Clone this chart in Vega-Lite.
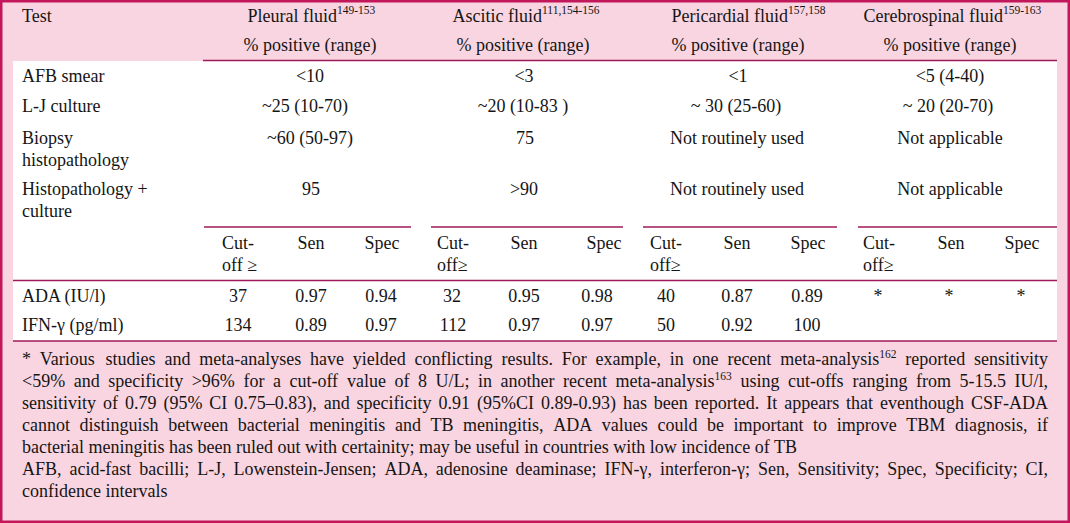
{
  "$schema": "https://vega.github.io/schema/vega-lite/v6.json",
  "width": 1070,
  "height": 523,
  "padding": 0,
  "autosize": {"type": "none"},
  "background": "#f9d5e1",
  "view": {"stroke": "#c2185b", "strokeWidth": 5},
  "datasets": {
    "boxes": [{"x0": 13, "x1": 1057, "y0": 61, "y1": 341}],
    "lines": [
      {"x0": 203, "x1": 1057, "y": 60.5},
      {"x0": 204, "x1": 411, "y": 227},
      {"x0": 431, "x1": 623, "y": 227},
      {"x0": 643, "x1": 837, "y": 227},
      {"x0": 858, "x1": 1057, "y": 227},
      {"x0": 13, "x1": 1057, "y": 280.5},
      {"x0": 13, "x1": 1057, "y": 341}
    ],
    "cells": [
      {"t": "Test", "x": 22, "y": 16.5, "k": "left"},
      {"t": "Pleural fluid", "x": 337, "y": 16.5, "k": "right"},
      {"t": "149-153", "x": 337, "y": 11, "k": "sup"},
      {"t": "Ascitic fluid", "x": 542, "y": 16.5, "k": "right"},
      {"t": "111,154-156", "x": 542, "y": 11, "k": "sup"},
      {"t": "Pericardial fluid", "x": 788, "y": 16.5, "k": "right"},
      {"t": "157,158", "x": 788, "y": 11, "k": "sup"},
      {"t": "Cerebrospinal fluid", "x": 1003, "y": 16.5, "k": "right"},
      {"t": "159-163", "x": 1003, "y": 11, "k": "sup"},
      {"t": "% positive (range)", "x": 310, "y": 46, "k": "center"},
      {"t": "% positive (range)", "x": 523, "y": 46, "k": "center"},
      {"t": "% positive (range)", "x": 738, "y": 46, "k": "center"},
      {"t": "% positive (range)", "x": 950, "y": 46, "k": "center"},

      {"t": "AFB smear", "x": 22, "y": 77, "k": "left"},
      {"t": "<10", "x": 310, "y": 77, "k": "center"},
      {"t": "<3", "x": 524, "y": 77, "k": "center"},
      {"t": "<1", "x": 738, "y": 77, "k": "center"},
      {"t": "<5 (4-40)", "x": 950, "y": 77, "k": "center"},

      {"t": "L-J culture", "x": 22, "y": 107, "k": "left"},
      {"t": "~25 (10-70)", "x": 305, "y": 107, "k": "center"},
      {"t": "~20 (10-83 )", "x": 523, "y": 107, "k": "center"},
      {"t": "~ 30 (25-60)", "x": 736, "y": 107, "k": "center"},
      {"t": "~ 20 (20-70)", "x": 948, "y": 107, "k": "center"},

      {"t": "Biopsy", "x": 22, "y": 139, "k": "left"},
      {"t": "histopathology", "x": 22, "y": 161, "k": "left"},
      {"t": "~60 (50-97)", "x": 310, "y": 139, "k": "center"},
      {"t": "75", "x": 525, "y": 139, "k": "center"},
      {"t": "Not routinely used", "x": 737, "y": 139, "k": "center"},
      {"t": "Not applicable", "x": 950, "y": 139, "k": "center"},

      {"t": "Histopathology +", "x": 22, "y": 190, "k": "left"},
      {"t": "culture", "x": 22, "y": 212, "k": "left"},
      {"t": "95", "x": 311, "y": 190, "k": "center"},
      {"t": ">90", "x": 524, "y": 190, "k": "center"},
      {"t": "Not routinely used", "x": 737, "y": 190, "k": "center"},
      {"t": "Not applicable", "x": 950, "y": 190, "k": "center"},

      {"t": "Cut-", "x": 222, "y": 244, "k": "left"},
      {"t": "off ≥", "x": 222, "y": 266, "k": "left"},
      {"t": "Sen", "x": 311, "y": 244, "k": "center"},
      {"t": "Spec", "x": 382, "y": 244, "k": "center"},
      {"t": "Cut-", "x": 437, "y": 244, "k": "left"},
      {"t": "off≥", "x": 437, "y": 266, "k": "left"},
      {"t": "Sen", "x": 524, "y": 244, "k": "center"},
      {"t": "Spec", "x": 604, "y": 244, "k": "center"},
      {"t": "Cut-", "x": 650, "y": 244, "k": "left"},
      {"t": "off≥", "x": 650, "y": 266, "k": "left"},
      {"t": "Sen", "x": 737, "y": 244, "k": "center"},
      {"t": "Spec", "x": 808, "y": 244, "k": "center"},
      {"t": "Cut-", "x": 863, "y": 244, "k": "left"},
      {"t": "off≥", "x": 863, "y": 266, "k": "left"},
      {"t": "Sen", "x": 951, "y": 244, "k": "center"},
      {"t": "Spec", "x": 1022, "y": 244, "k": "center"},

      {"t": "ADA (IU/l)", "x": 22, "y": 297, "k": "left"},
      {"t": "37", "x": 238, "y": 297, "k": "center"},
      {"t": "0.97", "x": 311, "y": 297, "k": "center"},
      {"t": "0.94", "x": 381, "y": 297, "k": "center"},
      {"t": "32", "x": 452, "y": 297, "k": "center"},
      {"t": "0.95", "x": 524, "y": 297, "k": "center"},
      {"t": "0.98", "x": 597, "y": 297, "k": "center"},
      {"t": "40", "x": 666, "y": 297, "k": "center"},
      {"t": "0.87", "x": 737, "y": 297, "k": "center"},
      {"t": "0.89", "x": 807, "y": 297, "k": "center"},
      {"t": "*", "x": 878, "y": 297, "k": "center"},
      {"t": "*", "x": 949, "y": 297, "k": "center"},
      {"t": "*", "x": 1021, "y": 297, "k": "center"},

      {"t": "IFN-γ (pg/ml)", "x": 22, "y": 326, "k": "left"},
      {"t": "134", "x": 238, "y": 326, "k": "center"},
      {"t": "0.89", "x": 311, "y": 326, "k": "center"},
      {"t": "0.97", "x": 381, "y": 326, "k": "center"},
      {"t": "112", "x": 453, "y": 326, "k": "center"},
      {"t": "0.97", "x": 524, "y": 326, "k": "center"},
      {"t": "0.97", "x": 597, "y": 326, "k": "center"},
      {"t": "50", "x": 666, "y": 326, "k": "center"},
      {"t": "0.92", "x": 737, "y": 326, "k": "center"},
      {"t": "100", "x": 807, "y": 326, "k": "center"},

      {"t": "*", "x": 22, "y": 360, "k": "left"},
      {"t": "Various", "x": 39.8, "y": 360, "k": "left"},
      {"t": "studies", "x": 105.6, "y": 360, "k": "left"},
      {"t": "and", "x": 164.4, "y": 360, "k": "left"},
      {"t": "meta-analyses", "x": 199.2, "y": 360, "k": "left"},
      {"t": "have", "x": 310.0, "y": 360, "k": "left"},
      {"t": "yielded", "x": 352.8, "y": 360, "k": "left"},
      {"t": "conflicting", "x": 414.6, "y": 360, "k": "left"},
      {"t": "results.", "x": 501.4, "y": 360, "k": "left"},
      {"t": "For", "x": 561.7, "y": 360, "k": "left"},
      {"t": "example,", "x": 595.5, "y": 360, "k": "left"},
      {"t": "in", "x": 669.8, "y": 360, "k": "left"},
      {"t": "one", "x": 692.6, "y": 360, "k": "left"},
      {"t": "recent", "x": 727.4, "y": 360, "k": "left"},
      {"t": "meta-analysis", "x": 780.2, "y": 360, "k": "left"},
      {"t": "162", "x": 879.2, "y": 355, "k": "sup"},
      {"t": "reported", "x": 905.2, "y": 360, "k": "left"},
      {"t": "sensitivity", "x": 974.0, "y": 360, "k": "left"},

      {"t": "<59%", "x": 22, "y": 382, "k": "left"},
      {"t": "and", "x": 73.7, "y": 382, "k": "left"},
      {"t": "specificity", "x": 108.2, "y": 382, "k": "left"},
      {"t": ">96%", "x": 191.7, "y": 382, "k": "left"},
      {"t": "for", "x": 243.4, "y": 382, "k": "left"},
      {"t": "a", "x": 272.9, "y": 382, "k": "left"},
      {"t": "cut-off", "x": 289.4, "y": 382, "k": "left"},
      {"t": "value", "x": 347.0, "y": 382, "k": "left"},
      {"t": "of", "x": 394.5, "y": 382, "k": "left"},
      {"t": "8", "x": 418.0, "y": 382, "k": "left"},
      {"t": "U/L;", "x": 435.5, "y": 382, "k": "left"},
      {"t": "in", "x": 478.1, "y": 382, "k": "left"},
      {"t": "another", "x": 500.6, "y": 382, "k": "left"},
      {"t": "recent", "x": 563.1, "y": 382, "k": "left"},
      {"t": "meta-analysis", "x": 615.6, "y": 382, "k": "left"},
      {"t": "163", "x": 714.6, "y": 377, "k": "sup"},
      {"t": "using", "x": 740.4, "y": 382, "k": "left"},
      {"t": "cut-offs", "x": 787.9, "y": 382, "k": "left"},
      {"t": "ranging", "x": 852.4, "y": 382, "k": "left"},
      {"t": "from", "x": 915.9, "y": 382, "k": "left"},
      {"t": "5-15.5", "x": 959.4, "y": 382, "k": "left"},
      {"t": "IU/l,", "x": 1014.5, "y": 382, "k": "left"},

      {"t": "sensitivity", "x": 22, "y": 404, "k": "left"},
      {"t": "of", "x": 103.0, "y": 404, "k": "left"},
      {"t": "0.79", "x": 124.9, "y": 404, "k": "left"},
      {"t": "(95%", "x": 163.4, "y": 404, "k": "left"},
      {"t": "CI", "x": 209.3, "y": 404, "k": "left"},
      {"t": "0.75–0.83),", "x": 234.3, "y": 404, "k": "left"},
      {"t": "and", "x": 323.7, "y": 404, "k": "left"},
      {"t": "specificity", "x": 356.6, "y": 404, "k": "left"},
      {"t": "0.91", "x": 438.6, "y": 404, "k": "left"},
      {"t": "(95%CI", "x": 477.0, "y": 404, "k": "left"},
      {"t": "0.89-0.93)", "x": 541.0, "y": 404, "k": "left"},
      {"t": "has", "x": 622.9, "y": 404, "k": "left"},
      {"t": "been", "x": 653.8, "y": 404, "k": "left"},
      {"t": "reported.", "x": 694.8, "y": 404, "k": "left"},
      {"t": "It", "x": 766.2, "y": 404, "k": "left"},
      {"t": "appears", "x": 784.2, "y": 404, "k": "left"},
      {"t": "that", "x": 846.1, "y": 404, "k": "left"},
      {"t": "eventhough", "x": 880.0, "y": 404, "k": "left"},
      {"t": "CSF-ADA", "x": 971.0, "y": 404, "k": "left"},

      {"t": "cannot", "x": 22, "y": 426, "k": "left"},
      {"t": "distinguish", "x": 79.6, "y": 426, "k": "left"},
      {"t": "between", "x": 168.2, "y": 426, "k": "left"},
      {"t": "bacterial", "x": 237.8, "y": 426, "k": "left"},
      {"t": "meningitis", "x": 309.3, "y": 426, "k": "left"},
      {"t": "and", "x": 394.9, "y": 426, "k": "left"},
      {"t": "TB", "x": 430.5, "y": 426, "k": "left"},
      {"t": "meningitis,", "x": 463.1, "y": 426, "k": "left"},
      {"t": "ADA", "x": 553.2, "y": 426, "k": "left"},
      {"t": "values", "x": 601.8, "y": 426, "k": "left"},
      {"t": "could", "x": 657.4, "y": 426, "k": "left"},
      {"t": "be", "x": 706.9, "y": 426, "k": "left"},
      {"t": "important", "x": 733.5, "y": 426, "k": "left"},
      {"t": "to", "x": 813.1, "y": 426, "k": "left"},
      {"t": "improve", "x": 836.7, "y": 426, "k": "left"},
      {"t": "TBM", "x": 906.3, "y": 426, "k": "left"},
      {"t": "diagnosis,", "x": 954.9, "y": 426, "k": "left"},
      {"t": "if", "x": 1037.0, "y": 426, "k": "left"},

      {"t": "bacterial meningitis has been ruled out with certainity; may be useful in countries with low incidence of TB", "x": 22, "y": 448, "k": "left"},

      {"t": "AFB,", "x": 22, "y": 470, "k": "left"},
      {"t": "acid-fast", "x": 69.4, "y": 470, "k": "left"},
      {"t": "bacilli;", "x": 139.3, "y": 470, "k": "left"},
      {"t": "L-J,", "x": 197.2, "y": 470, "k": "left"},
      {"t": "Lowenstein-Jensen;", "x": 233.5, "y": 470, "k": "left"},
      {"t": "ADA,", "x": 384.4, "y": 470, "k": "left"},
      {"t": "adenosine", "x": 435.8, "y": 470, "k": "left"},
      {"t": "deaminase;", "x": 515.6, "y": 470, "k": "left"},
      {"t": "IFN-γ,", "x": 604.5, "y": 470, "k": "left"},
      {"t": "interferon-γ;", "x": 660.0, "y": 470, "k": "left"},
      {"t": "Sen,", "x": 758.0, "y": 470, "k": "left"},
      {"t": "Sensitivity;", "x": 797.4, "y": 470, "k": "left"},
      {"t": "Spec,", "x": 887.3, "y": 470, "k": "left"},
      {"t": "Specificity;", "x": 934.7, "y": 470, "k": "left"},
      {"t": "CI,", "x": 1025.5, "y": 470, "k": "left"},

      {"t": "confidence intervals", "x": 22, "y": 492, "k": "left"}
    ]
  },
  "layer": [
    {
      "data": {"name": "boxes"},
      "mark": {"type": "rect", "fill": "#ffffff", "stroke": null},
      "encoding": {
        "x": {"field": "x0", "type": "quantitative", "scale": {"domain": [0, 1070], "nice": false, "zero": false}, "axis": null},
        "x2": {"field": "x1"},
        "y": {"field": "y0", "type": "quantitative", "scale": {"domain": [0, 523], "nice": false, "zero": false, "reverse": true}, "axis": null},
        "y2": {"field": "y1"}
      }
    },
    {
      "data": {"name": "lines"},
      "mark": {"type": "rule", "color": "#9e1a5a", "strokeWidth": 1.6},
      "encoding": {
        "x": {"field": "x0", "type": "quantitative"},
        "x2": {"field": "x1"},
        "y": {"field": "y", "type": "quantitative"}
      }
    },
    {
      "data": {"name": "cells"},
      "transform": [{"filter": "datum.k === 'left'"}],
      "mark": {"type": "text", "align": "left", "baseline": "middle", "font": "Liberation Serif", "fontSize": 18, "color": "#151515"},
      "encoding": {
        "x": {"field": "x", "type": "quantitative"},
        "y": {"field": "y", "type": "quantitative"},
        "text": {"field": "t"}
      }
    },
    {
      "data": {"name": "cells"},
      "transform": [{"filter": "datum.k === 'center'"}],
      "mark": {"type": "text", "align": "center", "baseline": "middle", "font": "Liberation Serif", "fontSize": 18, "color": "#151515"},
      "encoding": {
        "x": {"field": "x", "type": "quantitative"},
        "y": {"field": "y", "type": "quantitative"},
        "text": {"field": "t"}
      }
    },
    {
      "data": {"name": "cells"},
      "transform": [{"filter": "datum.k === 'right'"}],
      "mark": {"type": "text", "align": "right", "baseline": "middle", "font": "Liberation Serif", "fontSize": 18, "color": "#151515"},
      "encoding": {
        "x": {"field": "x", "type": "quantitative"},
        "y": {"field": "y", "type": "quantitative"},
        "text": {"field": "t"}
      }
    },
    {
      "data": {"name": "cells"},
      "transform": [{"filter": "datum.k === 'sup'"}],
      "mark": {"type": "text", "align": "left", "baseline": "middle", "font": "Liberation Serif", "fontSize": 11.5, "color": "#151515"},
      "encoding": {
        "x": {"field": "x", "type": "quantitative"},
        "y": {"field": "y", "type": "quantitative"},
        "text": {"field": "t"}
      }
    }
  ]
}
